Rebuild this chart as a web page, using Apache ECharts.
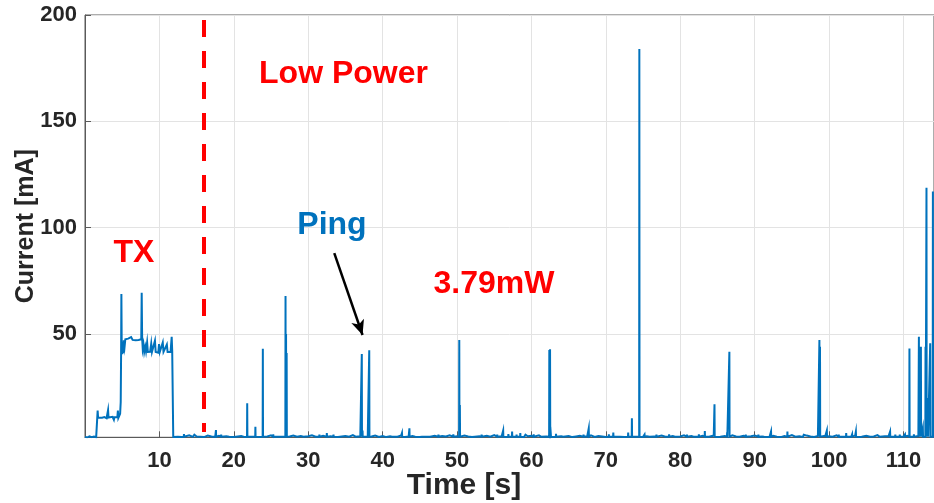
<!DOCTYPE html>
<html>
<head>
<meta charset="utf-8">
<script src="https://cdn.jsdelivr.net/npm/echarts@6/dist/echarts.min.js"></script>
<style>
  html, body { margin: 0; padding: 0; background: #ffffff; }
  #chart { width: 934px; height: 503px; }
</style>
</head>
<body>
<div id="chart"></div>
<script>
// Start-up and transmit burst (time in s, current in mA)
const txTimeS = [
  0, 0.3, 0.6, 0.9, 1.2, 1.5, 1.65,
  1.7, 1.76, 2.0, 2.3, 2.6, 2.9, 3.05, 3.1, 3.16, 3.4, 3.7, 3.88, 3.95, 4.1, 4.35, 4.42, 4.48, 4.62, 4.72,
  4.8, 4.85, 4.89, 4.94, 5.0, 5.06, 5.12, 5.22, 5.32, 5.42,
  5.6, 5.8, 6.0, 6.2, 6.4, 6.6, 6.8, 7.0, 7.2, 7.4,
  7.56, 7.62, 7.68, 7.76, 7.86, 7.96, 8.1, 8.2, 8.35, 8.45,
  8.6, 8.75, 8.9, 9.0, 9.2, 9.4, 9.5, 9.7, 9.85, 9.95,
  10.05, 10.3, 10.45, 10.55, 10.8, 11.0, 11.1, 11.3, 11.5, 11.65,
  11.72, 11.8, 11.86
];
const txCurrentMA = [
  1.6, 1.3, 1.9, 1.5, 1.8, 1.4, 1.6,
  14.0, 10.6, 11.0, 10.6, 10.9, 10.4, 10.8, 14.2, 10.7, 10.6, 11.0, 9.6, 10.8, 10.5, 10.9, 14.0, 10.5, 10.8, 12.5,
  18, 40, 68.8, 42, 40.5, 45, 41, 47, 44, 47.5,
  46.6, 47.8, 47.0, 48.5, 47.2, 47.8, 47.0, 47.6, 47.2, 47.8,
  47.5, 69.4, 48, 43, 45, 41.5, 44, 41.8, 46, 41.5,
  42, 41.6, 45.5, 41.5, 42, 46.8, 41.5, 42.3, 41.2, 45.2,
  41.5, 42, 46, 41.6, 41.8, 45, 41.5, 41.8, 41.5, 48.7,
  42, 41.8, 1.6
];

// Low-power floor, one sample every 0.5 s from 12 s
const idleStartS = 12;
const idleStepS = 0.5;
const idleCurrentMA = [
  1.7, 2.1, 1.5, 1.9, 2.3, 1.6, 1.8, 2.0, 1.5, 2.2,
  1.8, 1.6, 2.1, 1.7, 1.9, 2.4, 1.6, 1.8, 2.0, 1.5,
  2.2, 1.7, 1.9, 1.6, 2.1, 1.8, 2.3, 1.6, 1.9, 2.0,
  1.5, 1.8, 2.2, 1.7, 2.0, 1.6, 1.9, 2.3, 1.7, 1.8,
  2.1, 1.6, 1.9, 2.2, 1.5, 1.8, 2.0, 1.7, 2.4, 1.6,
  1.9, 2.1, 1.7, 1.8, 2.2, 1.6, 2.0, 1.5, 1.9, 2.1,
  1.7, 2.3, 1.6, 1.8, 2.0, 1.9, 1.5, 2.2, 1.7, 1.8,
  2.1, 1.6, 2.0, 1.8, 2.3, 1.7, 1.9, 1.6, 2.2, 1.8,
  1.5, 2.0, 1.9, 1.7, 2.1, 1.6, 2.4, 1.8, 1.9, 1.6,
  2.2, 1.7, 1.8, 2.0, 1.5, 1.9, 2.1, 1.7, 2.3, 1.6,
  1.8, 2.0, 1.6, 2.2, 1.9, 1.7, 2.0, 1.5, 1.8, 2.1,
  1.7, 1.9, 2.3, 1.6, 2.0, 1.8, 1.6, 2.2, 1.9, 1.7,
  2.1, 1.5, 1.8, 2.0, 1.7, 2.4, 1.6, 1.9, 2.1, 1.8,
  1.6, 2.2, 1.7, 1.9, 2.0, 1.5, 1.8, 2.3, 1.7, 2.0,
  1.9, 1.6, 2.1, 1.8, 1.7, 2.2, 1.6, 1.9, 2.0, 1.5,
  2.3, 1.8, 1.7, 2.1, 1.6, 1.9, 2.2, 1.7, 1.8, 2.0,
  1.6, 2.1, 1.9, 1.5, 2.0, 1.8, 2.4, 1.7, 1.9, 1.6,
  2.2, 1.8, 1.6, 2.0, 1.7, 2.1, 1.9, 1.5, 2.3, 1.8,
  1.7, 2.0, 1.8, 2.2, 1.6, 1.9, 2.1, 1.7, 1.8, 2.4,
  1.6, 1.9, 2.0, 1.7, 2.2, 1.5, 1.8, 2.1, 1.9, 1.7,
  2.0, 1.8, 2.2, 1.6, 1.9, 1.7, 2.1, 1.8, 1.6, 2.0
];

// Wake-ups and pings during low power: time of each spike and its peak
const spikeTimeS = [
  12.5, 13.3, 14.1, 14.7, 15.5, 16.6, 17.6, 18.3, 19.4, 20.3,
  21.2, 21.8, 22.4, 22.9, 23.9, 24.6, 25.3, 25.9, 26.5, 26.95,
  27.02, 27.1, 27.6, 28.2, 29.4, 30.6, 31.5, 32.5, 33.4, 34.6,
  35.6, 36.4, 37.2, 37.3, 38.2, 39.1, 40.2, 41.3, 42.6, 43.6,
  44.4, 45.3, 46.4, 47.5, 48.6, 49.5, 50.3, 50.38, 51.2, 52.4,
  53.3, 54.5, 55.4, 56.2, 56.9, 57.4, 58.0, 58.5, 59.2, 60.3,
  61.3, 62.4, 62.5, 62.6, 63.3, 64.3, 65.2, 66.2, 67.0, 67.7,
  68.6, 69.6, 70.4, 71.0, 71.9, 73.0, 73.5, 74.5, 75.2, 75.9,
  76.8, 77.6, 78.5, 79.3, 80.1, 80.9, 81.8, 82.5, 83.3, 83.9,
  84.6, 85.4, 86.3, 86.6, 87.2, 88.0, 88.8, 89.6, 90.5, 91.3,
  92.2, 93.0, 94.4, 95.5, 96.6, 97.6, 98.7, 98.78, 99.7, 100.5,
  101.3, 102.3, 103.1, 103.6, 104.4, 105.2, 106.1, 106.8, 107.6, 108.2,
  108.9, 109.5, 110.2, 110.8, 111.4, 112.07, 112.34, 112.6, 112.96, 113.09,
  113.28, 113.59, 113.95
];
const spikePeakMA = [
  2.6, 2.9, 2.4, 2.6, 2.3, 2.5, 4.8, 2.7, 2.5, 2.6,
  2.8, 17.4, 2.6, 6.4, 43.1, 2.7, 2.8, 2.5, 2.6, 67.8,
  50.0, 41.0, 2.6, 2.8, 2.5, 2.6, 2.7, 3.4, 2.7, 2.5,
  2.6, 2.5, 40.6, 4.6, 42.3, 2.6, 2.4, 2.6, 3.4, 5.6,
  2.5, 2.6, 2.5, 2.7, 2.5, 2.8, 47.1, 16.6, 2.6, 2.5,
  2.7, 2.6, 2.7, 4.6, 2.9, 4.1, 2.7, 3.4, 2.6, 2.8,
  2.6, 42.4, 42.8, 3.0, 3.0, 2.6, 2.7, 2.6, 2.7, 5.6,
  2.5, 2.7, 2.8, 3.6, 2.6, 3.6, 10.3, 184.0, 2.7, 2.6,
  2.7, 2.6, 2.8, 2.6, 2.6, 2.7, 2.5, 2.8, 4.3, 2.6,
  16.9, 2.6, 3.8, 41.6, 2.7, 2.6, 2.7, 2.6, 2.7, 2.5,
  4.1, 2.5, 4.1, 2.5, 2.6, 2.5, 47.1, 44.0, 4.6, 2.6,
  2.7, 3.4, 2.8, 4.1, 2.6, 2.7, 2.7, 2.6, 2.7, 4.1,
  2.7, 2.7, 2.8, 43.2, 2.8, 48.7, 44.0, 5.8, 44.0, 118.7,
  19.9, 45.6, 117.0
];

// Axis ranges and tick values
const timeRangeS = [0, 114.1];
const timeTickStepS = 10;
const currentRangeMA = [1.4, 200];
const currentTicksMA = [50, 100, 150, 200];

// Annotation anchors (data coordinates)
const lowPowerStartS = 15.9;
const lowPowerLineMA = [197.6, 3.9];
const pingArrowFrom = [33.5, 88.0];
const pingArrowTo = [37.3, 49.5];

// Spike foot level and half width (s)
const SPIKE_FOOT_MA = 1.7;
const SPIKE_HALF_S = 0.025;

const trace = [];
txTimeS.forEach((t, i) => trace.push([t, txCurrentMA[i]]));
idleCurrentMA.forEach((v, i) => trace.push([idleStartS + i * idleStepS, v]));
spikeTimeS.forEach((t, i) => {
  trace.push([t - SPIKE_HALF_S, SPIKE_FOOT_MA]);
  trace.push([t, spikePeakMA[i]]);
  trace.push([t + SPIKE_HALF_S, SPIKE_FOOT_MA]);
});
trace.sort((a, b) => a[0] - b[0]);

const FONT = '"Liberation Sans", Arial, Helvetica, sans-serif';
const AXIS_GREY = '#5a5a5a';
const TEXT_DARK = '#262626';
const GRID_GREY = '#e3e3e3';

const chart = echarts.init(document.getElementById('chart'), null, { renderer: 'canvas' });

chart.setOption({
  animation: false,
  backgroundColor: '#ffffff',
  grid: {
    left: 85, right: 0, top: 15, bottom: 65.7,
    outerBoundsMode: 'none',
    containLabel: false,
    show: true, borderColor: AXIS_GREY, borderWidth: 1
  },
  xAxis: {
    type: 'value',
    min: timeRangeS[0], max: timeRangeS[1], interval: timeTickStepS,
    name: 'Time [s]', nameLocation: 'middle', nameGap: 33, nameMoveOverlap: false,
    nameTextStyle: {
      fontFamily: FONT, fontWeight: 'bold', fontSize: 30, color: TEXT_DARK,
      padding: [0, 91, 0, 0]
    },
    axisLine: { show: true, lineStyle: { color: AXIS_GREY, width: 1 } },
    axisTick: { show: true, inside: true, length: 6, lineStyle: { color: AXIS_GREY } },
    axisLabel: {
      fontFamily: FONT, fontWeight: 'bold', fontSize: 22, color: TEXT_DARK, margin: 13,
      showMinLabel: false, showMaxLabel: false
    },
    splitLine: { show: true, lineStyle: { color: GRID_GREY, width: 1 } }
  },
  yAxis: {
    type: 'value',
    min: currentRangeMA[0], max: currentRangeMA[1],
    name: 'Current [mA]', nameLocation: 'middle', nameGap: 46, nameRotate: 90, nameMoveOverlap: false,
    nameTextStyle: { fontFamily: FONT, fontWeight: 'bold', fontSize: 25, color: TEXT_DARK },
    axisLine: { show: true, lineStyle: { color: AXIS_GREY, width: 1 } },
    axisTick: { show: true, inside: true, length: 6, customValues: currentTicksMA, lineStyle: { color: AXIS_GREY } },
    axisLabel: {
      fontFamily: FONT, fontWeight: 'bold', fontSize: 22, color: TEXT_DARK, margin: 8,
      customValues: currentTicksMA
    },
    splitLine: { show: true, lineStyle: { color: GRID_GREY, width: 1 } }
  },
  series: [{
    type: 'line',
    data: trace,
    showSymbol: false,
    symbol: 'none',
    sampling: null,
    clip: true,
    lineStyle: { color: '#0072BD', width: 2, join: 'miter' },
    z: 3,
    markLine: {
      silent: true,
      animation: false,
      label: { show: false },
      data: [
        [
          { coord: [lowPowerStartS, lowPowerLineMA[0]], symbol: 'none',
            lineStyle: { color: '#ff0000', width: 4, type: [17, 14] } },
          { coord: [lowPowerStartS, lowPowerLineMA[1]], symbol: 'none',
            lineStyle: { color: '#ff0000', width: 4, type: [17, 14] } }
        ],
        [
          { coord: pingArrowFrom, symbol: 'none',
            lineStyle: { color: '#000000', width: 2.5, type: 'solid' } },
          { coord: pingArrowTo, symbol: 'arrow', symbolSize: [10, 15],
            itemStyle: { color: '#000000' },
            lineStyle: { color: '#000000', width: 2.5, type: 'solid' } }
        ]
      ]
    }
  }],
  graphic: [
    { type: 'text', x: 343.5, y: 74, z: 10,
      style: { text: 'Low Power', fill: '#ff0000', font: 'bold 32px ' + FONT,
               align: 'center', verticalAlign: 'middle', textAlign: 'center', textVerticalAlign: 'middle' } },
    { type: 'text', x: 134, y: 253.5, z: 10,
      style: { text: 'TX', fill: '#ff0000', font: 'bold 32px ' + FONT,
               align: 'center', verticalAlign: 'middle', textAlign: 'center', textVerticalAlign: 'middle' } },
    { type: 'text', x: 332, y: 225, z: 10,
      style: { text: 'Ping', fill: '#0072BD', font: 'bold 32px ' + FONT,
               align: 'center', verticalAlign: 'middle', textAlign: 'center', textVerticalAlign: 'middle' } },
    { type: 'text', x: 494, y: 284.5, z: 10,
      style: { text: '3.79mW', fill: '#ff0000', font: 'bold 32px ' + FONT,
               align: 'center', verticalAlign: 'middle', textAlign: 'center', textVerticalAlign: 'middle' } }
  ]
});
</script>
</body>
</html>
